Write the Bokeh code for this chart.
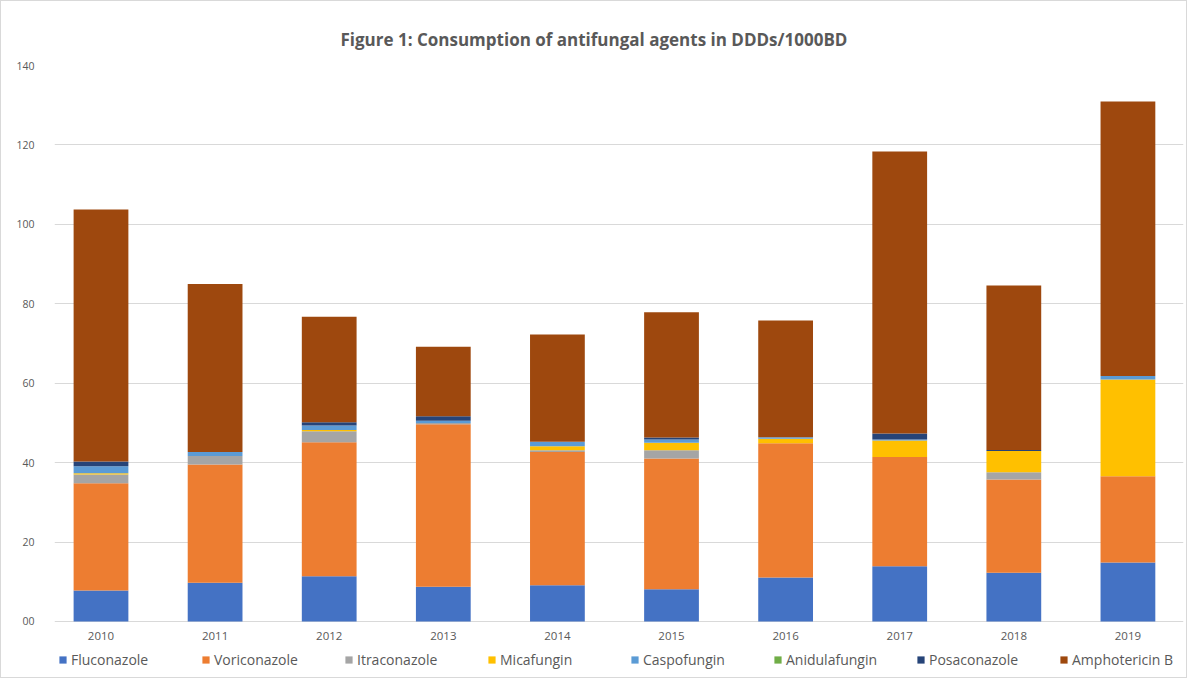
from bokeh.plotting import figure
from bokeh.models import ColumnDataSource, Range1d, FixedTicker, Legend, LegendItem
from bokeh.core.properties import value
from bokeh.embed import file_html
from bokeh.resources import INLINE

years = [2010, 2011, 2012, 2013, 2014, 2015, 2016, 2017, 2018, 2019]
year_labels = [str(y) for y in years]
fluconazole = [7.8, 9.75, 11.4, 8.75, 9.15, 8.1, 11.1, 13.9, 12.25, 14.85]
voriconazole = [27.0, 29.8, 33.75, 40.9, 33.5, 32.95, 33.8, 27.5, 23.5, 21.75]
itraconazole = [2.2, 2.1, 2.75, 0.3, 0.5, 2.1, 0.0, 0.0, 1.85, 0.0]
micafungin = [0.35, 0.0, 0.3, 0.0, 1.0, 1.85, 1.1, 4.2, 5.3, 24.35]
caspofungin = [1.75, 1.0, 1.15, 0.6, 1.1, 0.85, 0.4, 0.25, 0.0, 0.85]
anidulafungin = [0.0, 0.0, 0.0, 0.0, 0.0, 0.0, 0.0, 0.0, 0.0, 0.0]
posaconazole = [1.2, 0.0, 0.8, 1.1, 0.0, 0.45, 0.0, 1.5, 0.3, 0.0]
amphotericin_b = [63.45, 42.3, 26.6, 17.55, 27.0, 31.55, 29.4, 71.0, 41.4, 69.15]

names = ["Fluconazole", "Voriconazole", "Itraconazole", "Micafungin",
         "Caspofungin", "Anidulafungin", "Posaconazole", "Amphotericin B"]
series = [fluconazole, voriconazole, itraconazole, micafungin,
          caspofungin, anidulafungin, posaconazole, amphotericin_b]
colors = ["#4472C4", "#ED7D31", "#A5A5A5", "#FFC000",
          "#5B9BD5", "#70AD47", "#264478", "#9E480E"]
y_ticks = [0, 20, 40, 60, 80, 100, 120, 140]

data = {"year": years, "label": year_labels, "zero": [0] * len(years)}
for n, s in zip(names, series):
    data[n] = s
source = ColumnDataSource(data)

TEXT = "#595959"
GRID = "#D9D9D9"

p = figure(frame_width=1129, frame_height=610, output_backend="svg",
           toolbar_location=None,
           x_range=Range1d(2009.5925, 2019.487), y_range=Range1d(-13.6, 140),
           min_border_left=53, min_border_right=3, min_border_top=64,
           min_border_bottom=2)

p.title.text = "Figure 1: Consumption of antifungal agents in DDDs/1000BD"
p.title.align = "left"
p.title.offset = 286
p.title.text_font = "Open Sans"
p.title.text_font_size = "17px"
p.title.text_font_style = "bold"
p.title.text_color = TEXT
p.title.standoff = 29

renderers = p.vbar_stack(names, x="year", width=0.48, source=source,
                         color=colors, line_color=None)

# category labels under the baseline
p.text(x="year", y="zero", text="label", source=source, y_offset=15,
       text_align="center", text_baseline="middle",
       text_font=value("Open Sans"), text_font_size="11.5px", text_color=TEXT)

p.outline_line_color = None
p.background_fill_color = "white"
p.border_fill_color = "white"
p.styles = {"border": "1px solid #D9D9D9"}

p.xgrid.grid_line_color = None
p.ygrid.grid_line_color = GRID
p.ygrid.ticker = FixedTicker(ticks=y_ticks)
p.xaxis.visible = False

p.yaxis.ticker = FixedTicker(ticks=y_ticks)
p.yaxis.major_label_overrides = {0: "00"}
p.yaxis.axis_line_color = None
p.yaxis.major_tick_line_color = None
p.yaxis.minor_tick_line_color = None
p.yaxis.major_label_text_font = "Open Sans"
p.yaxis.major_label_text_font_size = "10.5px"
p.yaxis.major_label_text_color = TEXT
p.yaxis.major_label_standoff = 14

items = [LegendItem(label=n, renderers=[r]) for n, r in zip(names, renderers)]
legend = Legend(items=items, orientation="horizontal", location=(4, 6),
                label_text_font="Open Sans", label_text_font_size="14px",
                label_text_color=TEXT, glyph_width=9, glyph_height=9,
                label_standoff=4, label_width=118, spacing=12,
                padding=2, margin=0, border_line_color=None,
                background_fill_alpha=0)
p.add_layout(legend, "center")

open("out.html", "w").write(file_html(p, INLINE))
